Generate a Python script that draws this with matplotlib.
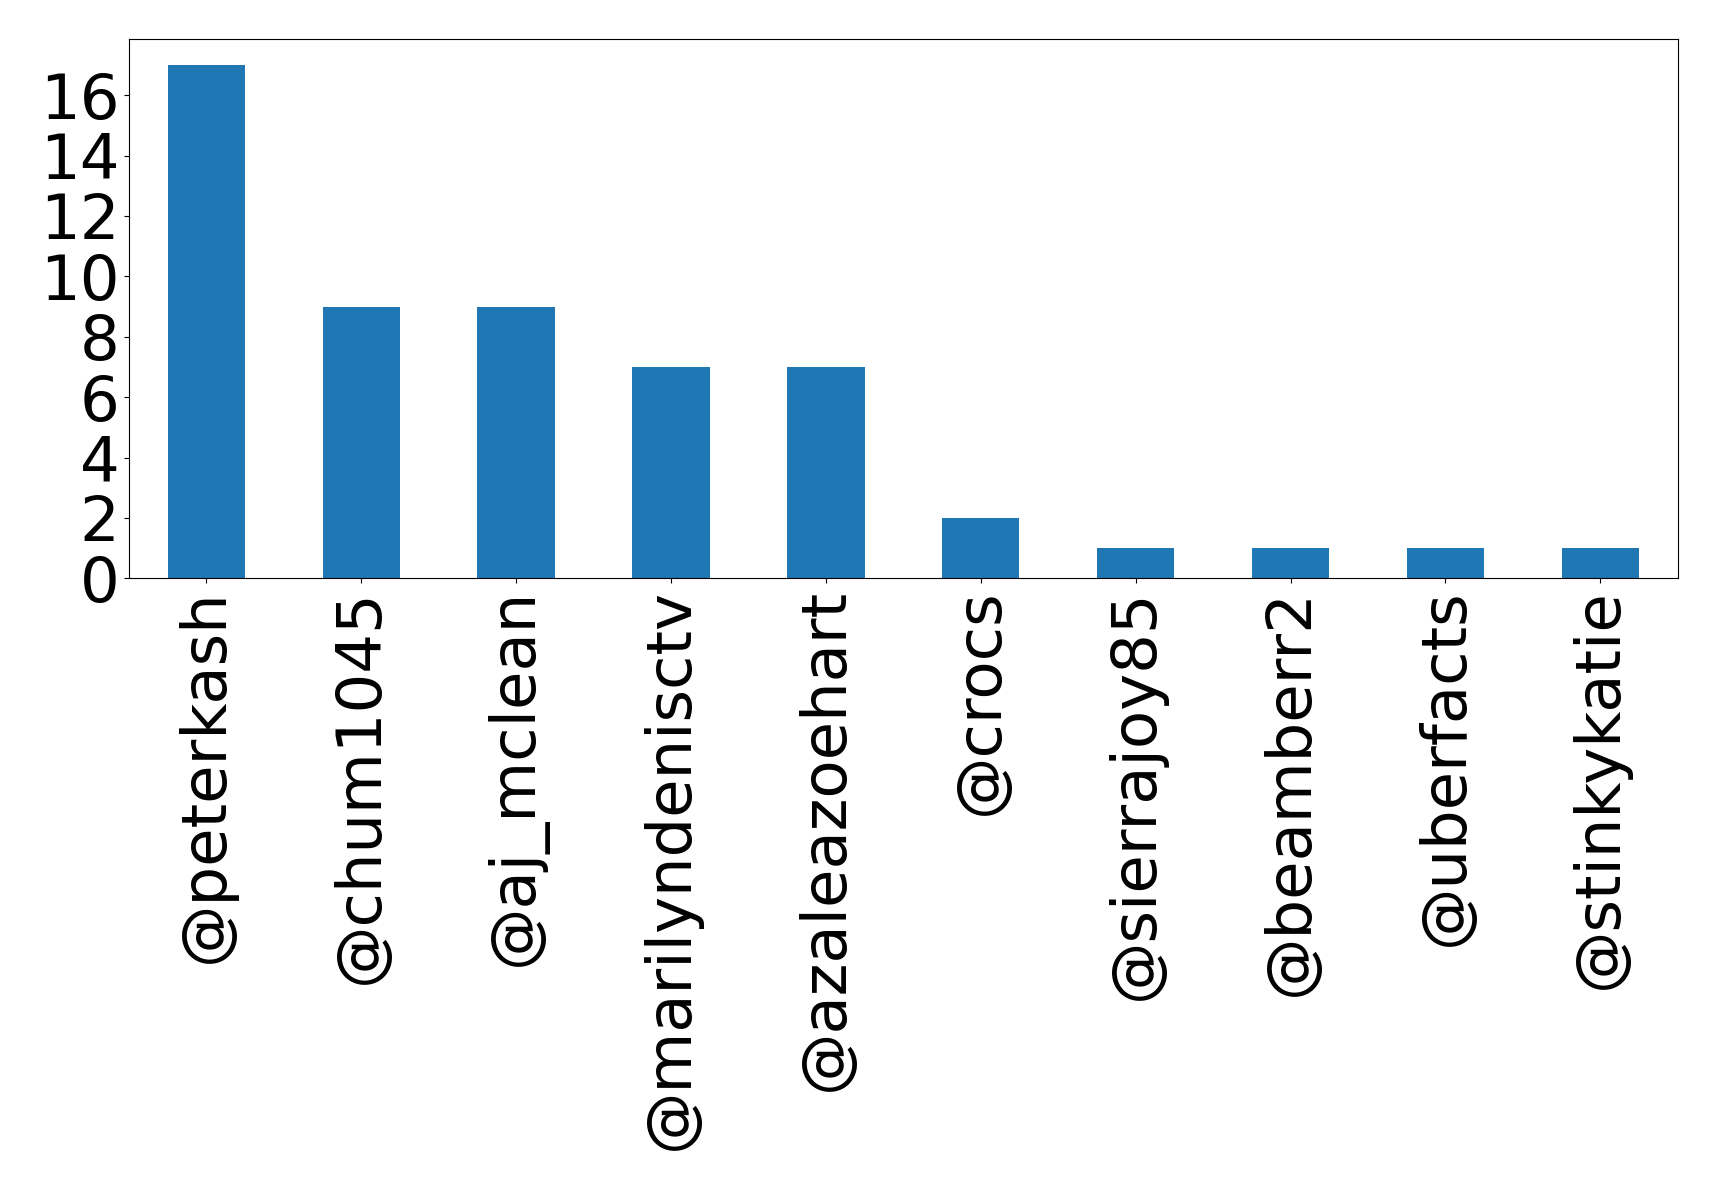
import numpy as np
import pandas as pd
import matplotlib.pyplot as plt

users = ['@peterkash', '@chum1045', '@aj_mclean', '@marilyndenisctv', '@azaleazoehart',
         '@crocs', '@sierrajoy85', '@beamberr2', '@uberfacts', '@stinkykatie']
counts = [17, 9, 9, 7, 7, 2, 1, 1, 1, 1]

s = pd.Series(counts, index=users)

fig = plt.figure(figsize=(17.19, 11.9), dpi=100)
ax = fig.add_subplot(111)
s.plot(kind='bar', ax=ax, fontsize=45)
fig.subplots_adjust(left=0.075, right=0.976, top=0.967, bottom=0.514)

fig.savefig('out.png', dpi=100)
